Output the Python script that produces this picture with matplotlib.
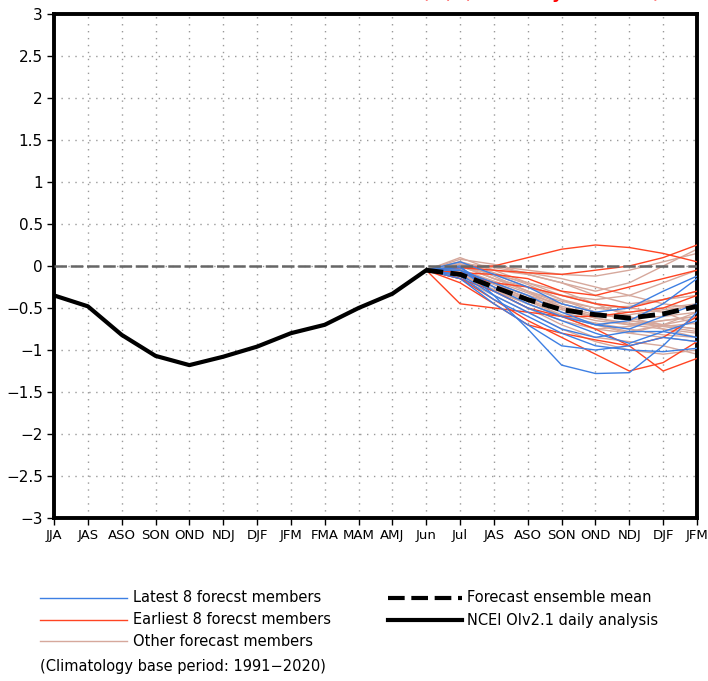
import matplotlib
matplotlib.use("Agg")
import matplotlib.pyplot as plt
from matplotlib.lines import Line2D
import numpy as np

plt.rcParams['font.family'] = ['DejaVu Sans Condensed', 'Liberation Sans Narrow', 'DejaVu Sans']

months = ["JJA", "JAS", "ASO", "SON", "OND", "NDJ", "DJF", "JFM", "FMA", "MAM",
          "AMJ", "Jun", "Jul", "JAS", "ASO", "SON", "OND", "NDJ", "DJF", "JFM"]

obs = [-0.35, -0.48, -0.82, -1.07, -1.18, -1.08, -0.96, -0.80, -0.70, -0.50, -0.33, -0.05]

ens_mean = [-0.05, -0.10, -0.25, -0.40, -0.52, -0.58, -0.62, -0.57, -0.48]

latest = [
    [-0.05, 0.00, -0.35, -0.75, -1.18, -1.28, -1.27, -0.95, -0.55],
    [-0.05, -0.15, -0.45, -0.70, -0.95, -1.00, -0.95, -0.85, -0.90],
    [-0.05, -0.05, -0.20, -0.35, -0.55, -0.70, -0.65, -0.45, -0.15],
    [-0.05, 0.05, -0.10, -0.25, -0.45, -0.55, -0.50, -0.30, -0.12],
    [-0.05, -0.10, -0.35, -0.55, -0.75, -0.85, -0.78, -0.78, -0.85],
    [-0.05, -0.05, -0.30, -0.50, -0.65, -0.80, -0.92, -0.78, -0.65],
    [-0.05, -0.02, -0.25, -0.45, -0.60, -0.70, -0.75, -0.60, -0.45],
    [-0.05, -0.12, -0.40, -0.60, -0.80, -0.95, -1.00, -1.02, -0.98],
]

earliest = [
    [-0.05, -0.02, 0.00, 0.10, 0.20, 0.25, 0.22, 0.15, 0.05],
    [-0.05, -0.45, -0.50, -0.55, -0.60, -0.75, -0.95, -1.25, -1.10],
    [-0.05, -0.02, -0.05, -0.08, -0.10, -0.05, 0.00, 0.10, 0.25],
    [-0.05, -0.15, -0.40, -0.65, -0.85, -1.05, -1.25, -1.15, -0.90],
    [-0.05, -0.08, -0.10, -0.15, -0.30, -0.35, -0.25, -0.15, -0.05],
    [-0.05, -0.15, -0.30, -0.50, -0.60, -0.60, -0.55, -0.50, -0.35],
    [-0.05, -0.08, -0.20, -0.25, -0.35, -0.45, -0.50, -0.40, -0.30],
    [-0.05, -0.20, -0.45, -0.70, -0.80, -0.88, -0.95, -0.85, -0.60],
]

others = [
    [-0.05, 0.08, 0.02, -0.10, -0.20, -0.30, -0.20, 0.00, 0.20],
    [-0.05, 0.10, -0.05, -0.20, -0.35, -0.45, -0.50, -0.55, -0.70],
    [-0.05, 0.00, -0.15, -0.30, -0.45, -0.55, -0.62, -0.70, -0.75],
    [-0.05, -0.05, -0.20, -0.35, -0.50, -0.62, -0.70, -0.65, -0.60],
    [-0.05, -0.10, -0.25, -0.40, -0.55, -0.65, -0.70, -0.75, -0.80],
    [-0.05, 0.02, -0.10, -0.25, -0.40, -0.50, -0.55, -0.50, -0.45],
    [-0.05, -0.08, -0.30, -0.45, -0.60, -0.70, -0.80, -0.85, -0.90],
    [-0.05, 0.05, -0.05, -0.10, -0.20, -0.35, -0.45, -0.40, -0.30],
    [-0.05, -0.12, -0.30, -0.50, -0.70, -0.85, -0.90, -0.95, -1.05],
    [-0.05, 0.00, -0.15, -0.25, -0.35, -0.40, -0.35, -0.20, -0.05],
    [-0.05, -0.05, -0.20, -0.40, -0.60, -0.75, -0.80, -0.70, -0.55],
    [-0.05, 0.03, -0.12, -0.30, -0.50, -0.60, -0.58, -0.52, -0.48],
    [-0.05, -0.10, -0.30, -0.50, -0.65, -0.75, -0.72, -0.65, -0.60],
    [-0.05, 0.02, 0.00, -0.05, -0.10, -0.12, -0.05, 0.05, 0.15],
    [-0.05, -0.06, -0.20, -0.35, -0.45, -0.55, -0.65, -0.72, -0.68],
    [-0.05, -0.15, -0.35, -0.55, -0.75, -0.90, -1.00, -1.05, -1.00],
    [-0.05, 0.00, -0.10, -0.20, -0.30, -0.45, -0.60, -0.75, -0.85],
    [-0.05, -0.04, -0.18, -0.32, -0.48, -0.58, -0.62, -0.60, -0.55],
    [-0.05, 0.05, -0.08, -0.22, -0.40, -0.55, -0.65, -0.70, -0.75],
    [-0.05, -0.10, -0.28, -0.45, -0.60, -0.68, -0.75, -0.82, -0.85],
    [-0.05, 0.00, -0.02, -0.08, -0.15, -0.25, -0.35, -0.45, -0.50],
    [-0.05, -0.08, -0.25, -0.42, -0.58, -0.70, -0.78, -0.70, -0.62],
    [-0.05, 0.02, -0.15, -0.30, -0.42, -0.50, -0.48, -0.40, -0.35],
    [-0.05, -0.05, -0.22, -0.38, -0.52, -0.62, -0.68, -0.72, -0.78],
]

yticks = [-3, -2.5, -2, -1.5, -1, -0.5, 0, 0.5, 1, 1.5, 2, 2.5, 3]
ytick_labels = ["\u22123", "\u22122.5", "\u22122", "\u22121.5", "\u22121", "\u22120.5", "0",
                "0.5", "1", "1.5", "2", "2.5", "3"]

BLUE = "#3d7fe3"
RED = "#ff4422"
OTHER = "#d6a89c"

W, H = 708, 681
fig = plt.figure(figsize=(W / 100, H / 100), dpi=100)
ax = fig.add_axes([54 / W, 1 - 518 / H, (697 - 54) / W, (518 - 14) / H])

x_all = np.arange(len(months))
x_obs = x_all[:len(obs)]
x_fc = x_all[len(obs) - 1:]

for m in others:
    ax.plot(x_fc, m, color=OTHER, lw=1.0, zorder=2)
for m in earliest:
    ax.plot(x_fc, m, color=RED, lw=1.0, zorder=3)
for m in latest:
    ax.plot(x_fc, m, color=BLUE, lw=1.0, zorder=3)

ax.axhline(0, color="#666666", lw=1.8, ls=(0, (5, 1.5)), zorder=4)
ax.plot(x_fc, ens_mean, color="black", lw=3.5, ls=(0, (3.5, 1.5)), zorder=6)
ax.plot(x_obs, obs, color="black", lw=3, zorder=6)

ax.set_xlim(0, len(months) - 1)
ax.set_ylim(-3, 3)
ax.set_xticks(x_all)
ax.set_xticklabels(months, fontsize=9.5)
ax.set_yticks(yticks)
ax.set_yticklabels(ytick_labels, fontsize=11)
ax.grid(True, color="#999999", ls=(0, (1, 4)), lw=1.0)
ax.tick_params(direction="out", length=5, width=1, pad=3)
for s in ax.spines.values():
    s.set_linewidth(2.8)

# title mostly above the figure edge, only descenders visible
fig.text(662 / W, 1 + 3 / H, "Ni\u00f1o3.4 SST anomalies (K) (Monthly means)",
         color="red", fontsize=17, ha="right", va="baseline")

def fx(px):
    return px / W

def fy(py):
    return 1 - py / H

fs = 10.5
legend_left = [(BLUE, 1.0, "-", "Latest 8 forecst members", 598),
               (RED, 1.0, "-", "Earliest 8 forecst members", 620),
               (OTHER, 1.0, "-", "Other forecast members", 641)]
for c, lw, ls, t, py in legend_left:
    fig.add_artist(Line2D([fx(40), fx(127)], [fy(py), fy(py)], color=c, lw=lw, ls=ls))
    fig.text(fx(133), fy(py), t, fontsize=fs, va="center", ha="left")

fig.add_artist(Line2D([fx(388), fx(462)], [fy(598), fy(598)], color="black", lw=3,
                      ls=(0, (4, 1.6))))
fig.text(fx(467), fy(598), "Forecast ensemble mean", fontsize=fs, va="center", ha="left")
fig.add_artist(Line2D([fx(388), fx(462)], [fy(620), fy(620)], color="black", lw=3))
fig.text(fx(467), fy(620), "NCEI OIv2.1 daily analysis", fontsize=fs, va="center", ha="left")

fig.text(fx(40), fy(666), "(Climatology base period: 1991\u22122020)", fontsize=fs,
         va="center", ha="left")

fig.savefig("out.png", dpi=100)
